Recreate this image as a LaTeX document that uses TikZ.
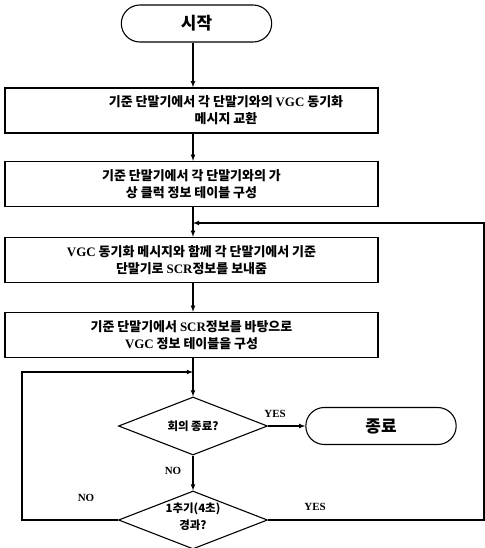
\documentclass[tikz,border=0pt]{standalone}
\usepackage{fontspec}
\setmainfont{Liberation Serif}
\newfontfamily\kr{Noto Sans CJK KR}
\usetikzlibrary{arrows,shapes}
\newcommand{\en}[1]{{\rmfamily\bfseries #1}}

\begin{document}
\begin{tikzpicture}[>=latex, line width=1.1pt,
  term/.style={draw,rounded rectangle,minimum width=157bp,minimum height=37bp,font=\kr\bfseries\fontsize{17}{20}\selectfont},
  box/.style={draw,rectangle,minimum width=373bp,minimum height=45bp,line width=1.4pt,align=center,font=\kr\bfseries\fontsize{13}{17}\selectfont},
  dia/.style={draw,diamond,minimum width=149bp,minimum height=58bp,inner sep=0pt},
  lab/.style={font=\rmfamily\bfseries\fontsize{11}{13}\selectfont}]

\useasboundingbox (0,0) rectangle (485bp,-548bp);

\node (S) at (196.5bp,-23.5bp)[term] {시작};
\node (B1) at (191.5bp,-110.5bp)[box] {};
\node (B1t) at (226bp,-110.5bp)[align=center,font=\kr\bfseries\fontsize{13}{17}\selectfont] {기준 단말기에서 각 단말기와의 \en{VGC} 동기화\\메시지 교환};
\node (B2) at (191.5bp,-184bp)[box] {기준 단말기에서 각 단말기와의 가\\상 클럭 정보 테이블 구성};
\node (B3) at (191.5bp,-260bp)[box] {\en{VGC} 동기화 메시지와 함께 각 단말기에서 기준\\단말기로 \en{SCR}정보를 보내줌};
\node (B4) at (191.5bp,-335bp)[box] {기준 단말기에서 \en{SCR}정보를 바탕으로\\\en{VGC} 정보 테이블을 구성};
\node (D1) at (193bp,-426bp)[dia,label={[font=\kr\bfseries\fontsize{11.5}{13}\selectfont]center:회의 종료?}] {};
\node (D2) at (193bp,-520bp)[dia,label={[align=center,yshift=3bp,font=\kr\bfseries\fontsize{11.5}{17}\selectfont]center:1추기(4초)\\경과?}] {};
\node (E) at (381bp,-426bp)[term] {종료};
\coordinate (L) at (22bp,-372bp);
\coordinate (R) at (484bp,-223bp);

\draw [->] (S.south -| D1) -- (B1.north -| D1);
\draw [->] (B1.south -| D1) -- (B2.north -| D1);
\draw [->] (B2.south -| D1) -- (B3.north -| D1);
\draw [->] (B3.south -| D1) -- (B4.north -| D1);
\draw [->] (B4.south -| D1) -- (D1.north);
\draw [->] (D1.east) -- (E.west);
\draw [->] (D1.south) -- (D2.north);
\draw [->] (D2.west) -- (L |- D2) -- (L) -- (L -| D1);
\draw [->] (D2.east) -- (R |- D2) -- (R) -- (R -| D1);

\node (Y1) at (275bp,-414bp)[lab] {YES};
\node (N1) at (173bp,-471bp)[lab] {NO};
\node (N2) at (86bp,-498bp)[lab] {NO};
\node (Y2) at (315bp,-507bp)[lab] {YES};
\end{tikzpicture}
\end{document}
